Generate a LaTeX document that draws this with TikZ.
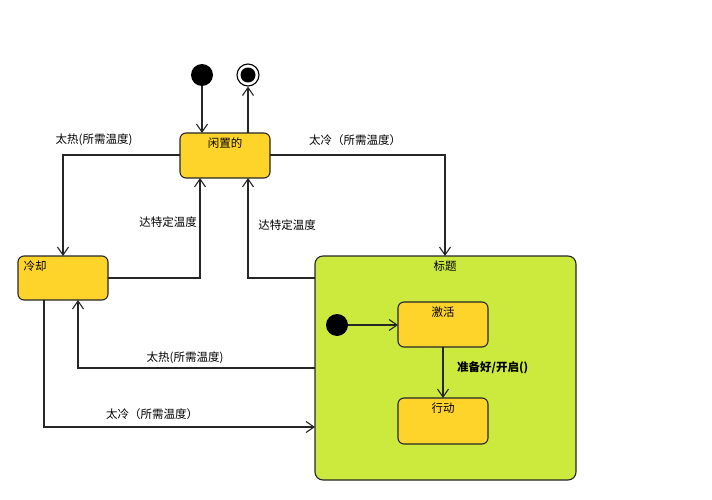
\documentclass[tikz,border=0pt]{standalone}
\usepackage{fontspec}
\usetikzlibrary{arrows.meta}
\setmainfont{Noto Sans CJK SC}
\definecolor{stY}{HTML}{FFD42A}
\definecolor{stG}{HTML}{CCEA3E}
\begin{document}
\begin{tikzpicture}[x=1pt,y=-1pt,
 st/.style={draw=black!85,fill=stY,rounded corners=6pt,line width=1.1pt},
 lbl/.style={font=\fontsize{11.5}{13}\selectfont,inner sep=1pt},
 ar/.style={-{Straight Barb[length=8pt,width=11pt]},line width=1.1pt,black!85},
 dot/.style={circle,fill=black,inner sep=0pt,minimum size=22pt}]
\useasboundingbox (0,0) rectangle (712,500);
\node[dot] (init) at (202,75) {};
\node[circle,draw,line width=1.1pt,inner sep=0pt,minimum size=22pt] (fin) at (248,75) {};
\fill (248,75) circle (7.5);
\draw[st] (180,133) rectangle (270,178);
\node[lbl] (tidle) at (225,143) {闲置的};
\draw[st] (18,256) rectangle (108,300);
\node[lbl] (tcool) at (35,266) {冷却};
\draw[draw=black!85,fill=stG,rounded corners=8pt,line width=1.1pt] (315,256) rectangle (576,480);
\node[lbl] (theat) at (445,266) {标题};
\node[dot] (init2) at (337,325) {};
\draw[st] (398,302) rectangle (488,347);
\node[lbl] (tact) at (443,312) {激活};
\draw[st] (398,398) rectangle (488,444);
\node[lbl] (tdo) at (443,408) {行动};
\coordinate (a1) at (202,133);
\draw[ar] (init) -- (a1);
\coordinate (a2) at (248,133);
\draw[ar] (a2) -- (fin);
\coordinate (b1) at (180,155); \coordinate (b2) at (63,256);
\draw[ar] (b1) -| (b2);
\node[lbl] (l1) at (94,140) {太热(所需温度)};
\coordinate (c1) at (270,155); \coordinate (c2) at (445,256);
\draw[ar] (c1) -| (c2);
\node[lbl] (l2) at (355,140) {太冷（所需温度）};
\coordinate (d1) at (108,278); \coordinate (d2) at (200,178);
\draw[ar] (d1) -| (d2);
\node[lbl] (l3) at (168,222) {达特定温度};
\coordinate (e1) at (315,278); \coordinate (e2) at (248,178);
\draw[ar] (e1) -| (e2);
\node[lbl] (l4) at (287,225) {达特定温度};
\coordinate (f1) at (315,368); \coordinate (f2) at (78,300);
\draw[ar] (f1) -| (f2);
\node[lbl] (l5) at (185,358) {太热(所需温度)};
\coordinate (g1) at (44,300); \coordinate (g2) at (315,427);
\draw[ar] (g1) |- (g2);
\node[lbl] (l6) at (152,414) {太冷（所需温度）};
\coordinate (h1) at (398,325);
\draw[ar] (init2) -- (h1);
\coordinate (i1) at (443,347); \coordinate (i2) at (443,398);
\draw[ar] (i1) -- (i2);
\node[lbl,anchor=west,font=\fontsize{11.5}{13}\selectfont\bfseries] (l7) at (456,368) {准备好/开启()};
\end{tikzpicture}
\end{document}
